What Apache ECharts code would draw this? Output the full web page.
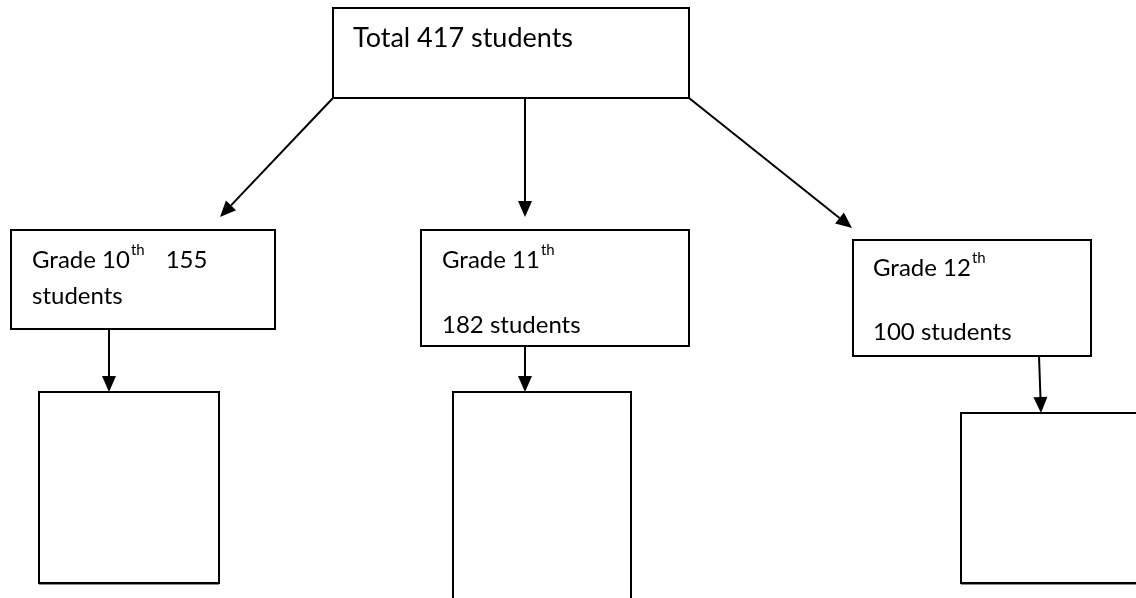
<!DOCTYPE html>
<html><head><meta charset="utf-8">
<script src="https://cdn.jsdelivr.net/npm/echarts@6/dist/echarts.min.js"></script>
<style>html,body{margin:0;padding:0;background:#fff}#c{width:1136px;height:598px}</style>
</head><body><div id="c"></div>
<script>
// ---- content ----
const nodeNames = ['Total', 'Grade 10', 'Grade 11', 'Grade 12', '', '', ''];
const studentCounts = [417, 155, 182, 100, null, null, null];
const ordinalSuffix = ['', 'th', 'th', 'th', '', '', ''];
const links = [[0, 1], [0, 2], [0, 3], [1, 4], [2, 5], [3, 6]];

// ---- layout (diagram units = pixels of the drawing area) ----
const boxLayout = [
  [333, 8, 689, 98],
  [11, 230, 275, 329],
  [421, 230, 689, 346],
  [853, 240, 1091, 356],
  [39, 392, 219, 583],
  [453, 392, 631, 640],
  [961, 413, 1180, 583]
];
const arrowLayout = [
  [333, 98, 220, 217],
  [525, 98, 525, 217],
  [689, 98, 852, 228],
  [109, 329, 109, 392],
  [525, 346, 525, 392],
  [1039, 356, 1041, 413]
];
// text anchor: [x, baseline line 1, baseline line 2, wrap mode, font size]
const textLayout = [
  [353, 46, null, 'single', 27],
  [32, 267, 303, 'countFirstLine', 24],
  [442, 267, 332, 'countSecondLine', 24],
  [873, 275, 339, 'countSecondLine', 24]
];

const FONT_FAMILY = 'Lato';
const SUP_SIZE = 15;

const mctx = document.createElement('canvas').getContext('2d');
function tw(t, size) { mctx.font = size + 'px ' + FONT_FAMILY; return mctx.measureText(t).width; }

function txt(t, x, base, size) {
  return {
    type: 'text',
    style: {
      text: t, x: x, y: base + Math.round(size * 0.22),
      font: size + 'px ' + FONT_FAMILY,
      fill: '#000', textAlign: 'left', textVerticalAlign: 'bottom', verticalAlign: 'bottom'
    }
  };
}

function nodeTexts(i) {
  if (i >= textLayout.length) return [];
  const [x, b1, b2, mode, fs] = textLayout[i];
  const out = [];
  if (mode === 'single') {
    out.push(txt(nodeNames[i] + ' ' + studentCounts[i] + ' students', x, b1, fs));
    return out;
  }
  const head = nodeNames[i];
  out.push(txt(head, x, b1, fs));
  const hx = x + tw(head, fs) + 1;
  out.push(txt(ordinalSuffix[i], hx, b1 - 12, SUP_SIZE));
  if (mode === 'countFirstLine') {
    const sx = hx + tw(ordinalSuffix[i], SUP_SIZE) + 21;
    out.push(txt(String(studentCounts[i]), sx, b1, fs));
    out.push(txt('students', x, b2, fs));
  } else {
    out.push(txt(studentCounts[i] + ' students', x, b2, fs));
  }
  return out;
}

const boxData = boxLayout.map((b, i) => b.concat([i]));
const arrowData = arrowLayout.map((a, i) => a.concat([i]));

const chart = echarts.init(document.getElementById('c'), null, { renderer: 'canvas' });
chart.setOption({
  animation: false,
  backgroundColor: '#fff',
  grid: { left: 0, right: 0, top: 0, bottom: 0 },
  xAxis: { type: 'value', min: 0, max: 1136, show: false },
  yAxis: { type: 'value', min: 0, max: 598, inverse: true, show: false },
  series: [
    {
      type: 'custom',
      coordinateSystem: 'cartesian2d',
      clip: false,
      data: boxData,
      encode: { x: [0, 2], y: [1, 3] },
      renderItem: function (params, api) {
        const p1 = api.coord([api.value(0), api.value(1)]);
        const p2 = api.coord([api.value(2), api.value(3)]);
        const i = api.value(4);
        const children = [{
          type: 'rect',
          shape: { x: p1[0], y: p1[1], width: p2[0] - p1[0], height: p2[1] - p1[1] },
          style: { fill: '#fff', stroke: '#000', lineWidth: 2 }
        }];
        if (i >= 4) {
          children.push({
            type: 'line',
            shape: { x1: p1[0], y1: p2[1] + 1.5, x2: p2[0], y2: p2[1] + 1.5 },
            style: { stroke: '#888', lineWidth: 1 }
          });
        }
        return { type: 'group', children: children.concat(nodeTexts(i)) };
      }
    },
    {
      type: 'custom',
      coordinateSystem: 'cartesian2d',
      clip: false,
      data: arrowData,
      encode: { x: [0, 2], y: [1, 3] },
      renderItem: function (params, api) {
        const s = api.coord([api.value(0), api.value(1)]);
        const e = api.coord([api.value(2), api.value(3)]);
        const dx = e[0] - s[0], dy = e[1] - s[1];
        const len = Math.sqrt(dx * dx + dy * dy);
        const ux = dx / len, uy = dy / len;
        const L = 16, W = 7;
        const bx = e[0] - ux * L, by = e[1] - uy * L;
        return {
          type: 'group',
          children: [
            { type: 'line', shape: { x1: s[0], y1: s[1], x2: bx, y2: by }, style: { stroke: '#000', lineWidth: 2 } },
            { type: 'polygon', shape: { points: [[e[0], e[1]], [bx - uy * W, by + ux * W], [bx + uy * W, by - ux * W]] }, style: { fill: '#000' } }
          ]
        };
      }
    }
  ]
});
</script></body></html>
